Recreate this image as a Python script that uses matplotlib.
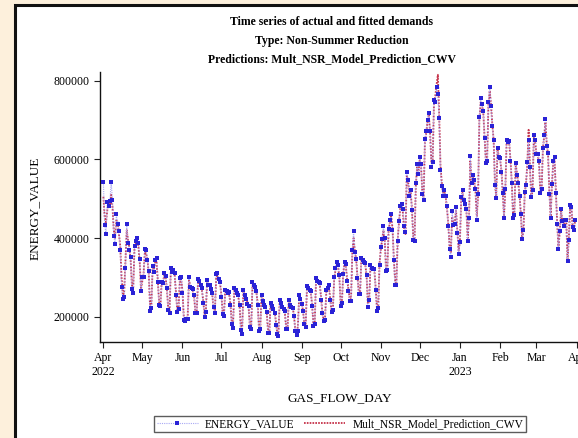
import numpy as np
import pandas as pd
import matplotlib
matplotlib.use('Agg')
import matplotlib.pyplot as plt
from matplotlib.patches import Rectangle
from matplotlib.lines import Line2D

# ============================================================
# DATA (daily values, thousands)
# ============================================================

start_date = '2022-04-01'

actual_k = [
    542, 433, 410,
    491, 481, 494, 542, 497, 405, 385,
    461, 435, 418, 369, 275, 245, 250,
    324, 435, 387, 369, 352, 270, 260,
    379, 392, 400, 387, 347, 265, 300,
    300, 372, 369, 344, 316, 214, 222,
    329, 314, 344, 349, 288, 230, 227,
    288, 285, 311, 303, 273, 217, 209,
    323, 313, 318, 310, 255, 212, 220,
    298, 300, 260, 192, 190, 193, 195,
    300, 275, 272, 270, 255, 209, 209,
    296, 290, 280, 273, 235, 199, 212,
    293, 280, 280, 270, 260, 224, 209,
    308, 311, 296, 288, 250, 207, 202,
    267, 265, 260, 262, 230, 181, 171,
    273, 268, 260, 255, 230, 166, 156,
    267, 255, 245, 232, 227, 173, 169,
    288, 280, 275, 265, 230, 163, 168,
    255, 240, 230, 225, 212, 158, 158,
    234, 228, 220, 210, 180, 156, 151,
    242, 235, 225, 219, 214, 168, 168,
    242, 230, 225, 222, 202, 163, 153,
    163, 255, 245, 232, 214, 181, 173,
    277, 272, 268, 265, 227, 176, 181,
    298, 290, 288, 285, 242, 209, 189,
    191, 268, 272, 280, 242, 211, 217,
    300, 323, 338, 331, 305, 227, 234,
    308, 339, 334, 290, 265, 240, 240,
    369, 417, 364, 346, 298, 257, 257,
    349, 345, 340, 336, 306, 225, 242,
    331, 325, 321, 321, 268, 214, 222,
    331, 376, 397, 430, 400, 316, 318,
    422, 445, 460, 420, 344, 280, 280,
    392, 443, 481, 486, 473, 430, 415,
    567, 547, 508, 521, 470, 395, 392,
    539, 587, 562, 605, 587, 511, 496,
    651, 671, 699, 719, 671, 580, 592,
    752, 745, 783, 765, 704, 572, 531,
    508, 521, 506, 481, 430, 371, 353,
    468, 432, 435, 478, 414, 359, 389,
    503, 521, 496, 486, 475, 392, 450,
    608, 539, 559, 547, 524, 447, 511,
    707, 755, 740, 724, 653, 590, 595,
    745, 783, 735, 684, 648, 534, 501,
    628, 605, 603, 569, 514, 450, 524,
    648, 643, 646, 595, 539, 450, 458,
    590, 560, 539, 506, 460, 397, 420,
    516, 536, 592, 648, 580, 503, 521,
    663, 648, 613, 613, 597, 514, 524,
    628, 663, 702, 635, 615, 511, 450,
    537, 597, 605, 514, 435, 371, 417,
    473, 442, 430, 447, 447, 341, 394,
    483, 478, 427, 420, 447,
]

predicted_k = [
    505, 455, 440,
    470, 495, 480, 510, 480, 420, 400,
    445, 440, 410, 380, 300, 255, 260,
    340, 420, 395, 375, 345, 280, 270,
    375, 385, 395, 380, 340, 270, 290,
    310, 365, 360, 345, 310, 225, 230,
    325, 320, 340, 340, 290, 235, 230,
    290, 290, 305, 300, 270, 220, 215,
    315, 310, 312, 305, 260, 215, 222,
    295, 295, 265, 200, 195, 195, 200,
    292, 280, 275, 268, 250, 210, 212,
    290, 285, 278, 268, 240, 205, 210,
    290, 282, 278, 268, 255, 220, 212,
    300, 305, 292, 285, 255, 210, 205,
    268, 266, 262, 258, 232, 185, 178,
    270, 265, 258, 252, 230, 172, 165,
    262, 255, 248, 238, 225, 175, 172,
    280, 277, 270, 262, 235, 170, 170,
    255, 245, 235, 228, 212, 162, 160,
    238, 232, 225, 215, 190, 160, 156,
    240, 234, 228, 222, 210, 170, 168,
    240, 232, 226, 222, 205, 165, 158,
    175, 250, 245, 235, 215, 180, 175,
    272, 270, 266, 262, 230, 180, 182,
    292, 288, 285, 280, 245, 205, 192,
    200, 265, 270, 275, 245, 212, 218,
    295, 318, 332, 328, 300, 232, 236,
    312, 335, 330, 295, 270, 245, 244,
    360, 400, 365, 345, 300, 262, 260,
    350, 346, 340, 332, 305, 232, 240,
    330, 325, 322, 318, 275, 220, 225,
    335, 372, 395, 420, 395, 320, 320,
    420, 440, 455, 425, 350, 290, 282,
    395, 440, 475, 480, 465, 420, 410,
    560, 545, 512, 518, 475, 400, 395,
    535, 580, 565, 598, 585, 515, 500,
    645, 668, 695, 715, 668, 590, 595,
    745, 760, 790, 815, 712, 585, 540,
    512, 518, 505, 478, 435, 380, 362,
    455, 438, 440, 470, 418, 368, 392,
    498, 515, 498, 482, 470, 400, 448,
    595, 545, 555, 545, 520, 455, 505,
    700, 745, 738, 720, 658, 595, 598,
    740, 775, 738, 688, 650, 540, 505,
    625, 608, 600, 572, 518, 455, 520,
    642, 648, 642, 598, 542, 455, 462,
    588, 565, 540, 508, 462, 400, 418,
    515, 538, 590, 675, 582, 505, 518,
    655, 645, 615, 612, 595, 515, 520,
    625, 660, 695, 638, 612, 515, 455,
    535, 595, 600, 518, 440, 375, 415,
    470, 445, 432, 445, 448, 345, 398,
    480, 478, 428, 422, 448,
]

y_ticks = [200000, 400000, 600000, 800000]
month_ticks = ['2022-04-01', '2022-05-01', '2022-06-01', '2022-07-01', '2022-08-01',
               '2022-09-01', '2022-10-01', '2022-11-01', '2022-12-01', '2023-01-01',
               '2023-02-01', '2023-03-01', '2023-04-01']
month_labels = ['Apr\n2022', 'May', 'Jun', 'Jul', 'Aug', 'Sep', 'Oct', 'Nov', 'Dec',
                'Jan\n2023', 'Feb', 'Mar', 'Apr']

dates = pd.date_range(start_date, periods=len(actual_k), freq='D')
actual = np.array(actual_k) * 1000
predicted = np.array(predicted_k) * 1000

# ============================================================
# PLOT
# ============================================================

BG = '#FDF0DC'
BLUE = '#2A22D6'
BLUE_LINE = '#A8A8F4'
RED = '#C0203A'

plt.rcParams['font.family'] = ['Liberation Serif', 'DejaVu Serif']

fig = plt.figure(figsize=(5.78, 4.38), dpi=100, facecolor=BG)

# white panel with dark frame (cut at right/bottom like the screenshot)
fig.patches.append(Rectangle((14.5 / 578, -0.05), 1.2, (438 - 4.5) / 438 + 0.05,
                             transform=fig.transFigure, facecolor='white',
                             edgecolor='#111111', linewidth=2.2, zorder=-10))

ax = fig.add_axes([99.5 / 578, 1 - 342 / 438, (578 - 99.5) / 578, (342 - 72) / 438])
ax.set_facecolor('none')
ax.set_zorder(1)

ax.plot(dates, predicted, color=RED, linestyle=(0, (1.0, 0.7)), linewidth=1.3,
        alpha=0.9, zorder=2, label='Mult_NSR_Model_Prediction_CWV')
ax.plot(dates, actual, color=BLUE_LINE, linestyle=(0, (1, 1)), linewidth=0.8,
        marker='s', markersize=3.0, markerfacecolor=BLUE, markeredgecolor=BLUE,
        markeredgewidth=0, zorder=3, label='ENERGY_VALUE')

ax.set_xlim(pd.Timestamp('2022-03-29'), pd.Timestamp('2023-04-02 02:00'))
ax.set_ylim(135700, 822000)

ax.set_yticks(y_ticks)
ax.set_yticklabels([str(v) for v in y_ticks])
ax.set_xticks(pd.to_datetime(month_ticks))
ax.set_xticklabels(month_labels)

ax.tick_params(axis='both', direction='out', length=4, width=0.8,
               labelsize=8.5, color='#222222', pad=3)

for side in ['top', 'right']:
    ax.spines[side].set_visible(False)
for side in ['left', 'bottom']:
    ax.spines[side].set_linewidth(1.0)
    ax.spines[side].set_color('#111111')

# titles
fig.text(332 / 578, 1 - 22 / 438, 'Time series of actual and fitted demands',
         ha='center', va='center', fontsize=8.5, fontweight='bold')
fig.text(332 / 578, 1 - 41 / 438, 'Type: Non-Summer Reduction',
         ha='center', va='center', fontsize=8.5, fontweight='bold')
fig.text(332 / 578, 1 - 59 / 438, 'Predictions: Mult_NSR_Model_Prediction_CWV',
         ha='center', va='center', fontsize=8.5, fontweight='bold')

# axis labels
fig.text(35 / 578, 1 - 208 / 438, 'ENERGY_VALUE', rotation=90,
         ha='center', va='center', fontsize=9.5)
fig.text(340 / 578, 1 - 398 / 438, 'GAS_FLOW_DAY',
         ha='center', va='center', fontsize=9.5)

# legend
handles = [
    Line2D([], [], color=BLUE_LINE, linestyle=(0, (1, 1)), linewidth=0.8,
           marker='s', markersize=3.0, markerfacecolor=BLUE, markeredgewidth=0),
    Line2D([], [], color=RED, linestyle=(0, (1.0, 0.7)), linewidth=1.2),
]
leg = fig.legend(handles, ['ENERGY_VALUE', 'Mult_NSR_Model_Prediction_CWV'],
                 loc='center', bbox_to_anchor=(340 / 578, 1 - 424 / 438),
                 ncol=2, fontsize=8.3, frameon=True, fancybox=False,
                 handlelength=3.6, handletextpad=0.6, columnspacing=0.8,
                 borderpad=0.2, edgecolor='#333333')
leg.get_frame().set_linewidth(1.0)

fig.savefig('out.png', dpi=100, facecolor=BG)
